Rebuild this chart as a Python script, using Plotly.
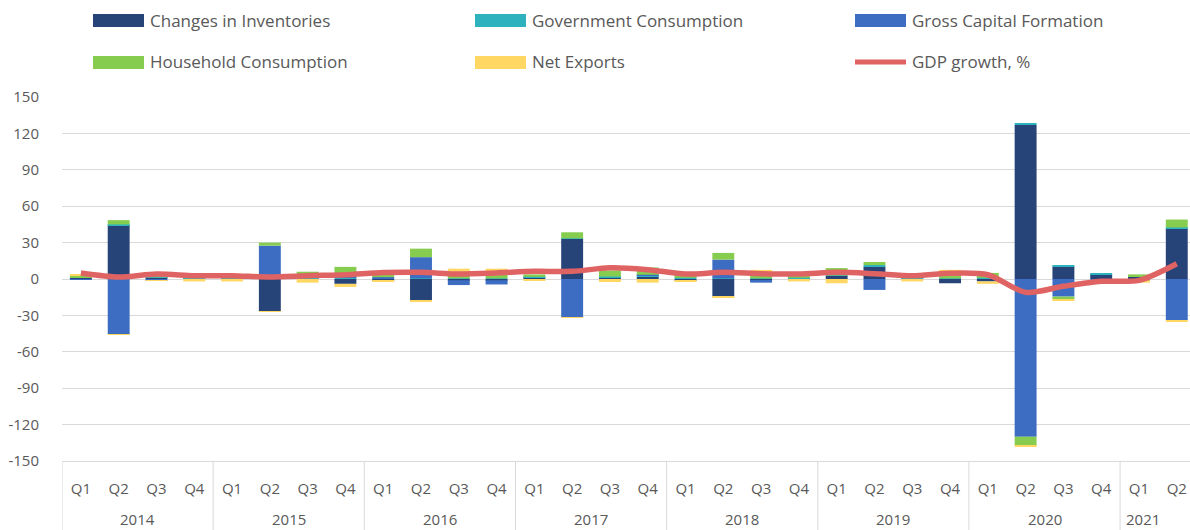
import plotly.graph_objects as go

# Quarterly contributions to GDP growth, 2014 Q1 – 2021 Q2
years = ["2014", "2015", "2016", "2017", "2018", "2019", "2020", "2021"]
quarters_per_year = [4, 4, 4, 4, 4, 4, 4, 2]
quarter_labels = ["Q1", "Q2", "Q3", "Q4"]
y_ticks = [-150, -120, -90, -60, -30, 0, 30, 60, 90, 120, 150]

inventories = [1.0, 44.5, 1.0, 0.5, 0.5, -26.5, 0.5, -4.0, -1.5, -18.0,
               -1.0, -1.0, 1.5, 33.0, 1.5, 2.0, -1.0, -14.5, -1.5, 0.5,
               2.5, 10.0, 0.5, -3.5, -2.0, 127.0, 10.5, 4.0, 2.0, 42.0]
government = [0.3, 0.5, 0.5, 0.5, 0.5, 0.5, 0.5, 1.0, 0.5, 0.5,
              0.5, 0.5, 0.3, 0.5, 0.5, 1.0, 1.0, 0.5, 0.5, 0.5,
              0.5, 1.5, 0.5, 0.5, 1.0, 1.5, 0.3, 0.3, 0.3, 0.5]
capital_formation = [-0.5, -45.5, -1.0, 0.5, 0.0, 27.0, 0.0, 1.0, 1.0, 17.5,
                     -4.0, -3.5, 0.0, -31.5, 0.0, 0.5, 0.0, 15.5, -1.5, -0.5,
                     0.0, -9.0, 0.0, 0.0, 0.0, -130.0, -14.5, -1.0, -1.0, -34.0]
household = [1.5, 3.5, 2.0, 2.0, 1.5, 2.5, 5.0, 8.0, 3.0, 7.0,
             5.0, 5.0, 2.0, 5.0, 5.0, 6.0, 3.0, 5.5, 5.0, 3.0,
             6.0, 2.5, 2.0, 5.0, 4.0, -7.5, -2.5, -1.0, 1.5, 6.5]
net_exports = [1.0, -0.5, -0.5, -2.0, -2.0, -0.5, -3.0, -2.5, -1.0, -1.0,
               3.0, 3.0, -1.5, -0.5, -2.5, -3.0, -1.5, -0.5, 2.0, -1.5,
               -3.5, 0.0, -2.0, 2.0, -2.0, -0.5, -0.5, -0.5, -2.0, -1.0]
gdp_growth = [4.9, 1.6, 4.1, 2.7, 2.7, 1.6, 2.7, 3.5, 5.3, 5.5,
              4.1, 5.0, 6.3, 6.3, 9.3, 7.7, 4.1, 5.5, 4.4, 4.1,
              5.5, 4.4, 2.7, 4.7, 3.5, -11.0, -6.0, -1.9, -1.1, 12.6]

ticktext = []
for n in quarters_per_year:
    ticktext += quarter_labels[:n]
x = list(range(len(ticktext)))

TEXT = "#595959"
GRID = "#d9d9d9"
FONT = "Open Sans"

series = [
    ("Changes in Inventories", inventories, "#264478"),
    ("Government Consumption", government, "#2EB3BE"),
    ("Gross Capital Formation", capital_formation, "#3C6DC2"),
    ("Household Consumption", household, "#86CC4F"),
    ("Net Exports", net_exports, "#FFD762"),
]

fig = go.Figure()
for name, vals, color in series:
    fig.add_trace(go.Bar(x=x, y=vals, name=name, marker_color=color,
                         marker_line_width=0, showlegend=False))
fig.add_trace(go.Scatter(x=x, y=gdp_growth, name="GDP growth, %", mode="lines",
                         line=dict(color="#E06363", width=5.5, shape="spline", smoothing=0.8),
                         showlegend=False))

# Plot-area geometry in pixels (used for paper-coordinate legend placement)
W, H = 1190, 530
L, R, T, B = 62, 0, 97, 69
pw, ph = W - L - R, H - T - B

def px_x(px):
    return (px - L) / pw

def px_y(py):
    return (H - B - py) / ph

shapes = []
annotations = []

# Legend: three columns, two rows
legend_items = [
    ("Changes in Inventories", "#264478", "bar", 148, 20),
    ("Government Consumption", "#2EB3BE", "bar", 530, 20),
    ("Gross Capital Formation", "#3C6DC2", "bar", 910, 20),
    ("Household Consumption", "#86CC4F", "bar", 148, 62),
    ("Net Exports", "#FFD762", "bar", 530, 62),
    ("GDP growth, %", "#E06363", "line", 910, 62),
]
for label, color, kind, tx, ty in legend_items:
    if kind == "bar":
        shapes.append(dict(type="rect", xref="paper", yref="paper",
                           x0=px_x(tx - 55), x1=px_x(tx - 4),
                           y0=px_y(ty + 7), y1=px_y(ty - 6),
                           fillcolor=color, line_width=0))
    else:
        shapes.append(dict(type="line", xref="paper", yref="paper",
                           x0=px_x(tx - 55), x1=px_x(tx - 4),
                           y0=px_y(ty), y1=px_y(ty),
                           line=dict(color=color, width=5)))
    annotations.append(dict(text=label, xref="paper", yref="paper",
                            x=px_x(tx), y=px_y(ty), xanchor="left", yanchor="middle",
                            showarrow=False, font=dict(family=FONT, size=17, color=TEXT)))

# Year group labels and dividers below the category axis
start = 0
for i, (yr, n) in enumerate(zip(years, quarters_per_year)):
    center = start + (n - 1) / 2
    if i == len(years) - 1:
        center -= 0.4
    annotations.append(dict(text=yr, xref="x", yref="paper", x=center, y=px_y(519),
                            xanchor="center", yanchor="middle", showarrow=False,
                            font=dict(family=FONT, size=15, color=TEXT)))
    shapes.append(dict(type="line", xref="x", yref="paper",
                       x0=start - 0.5, x1=start - 0.5, y0=0, y1=px_y(H + 2),
                       line=dict(color=GRID, width=1), layer="below"))
    start += n

fig.update_layout(
    width=W, height=H,
    margin=dict(l=L, r=R, t=T, b=B, pad=0),
    barmode="relative",
    bargap=0.42,
    plot_bgcolor="white",
    paper_bgcolor="white",
    font=dict(family=FONT, color=TEXT),
    shapes=shapes,
    annotations=annotations,
    xaxis=dict(
        range=[-0.5, len(x) - 0.65],
        tickmode="array", tickvals=x, ticktext=ticktext,
        showgrid=False, zeroline=False,
        showline=True, linecolor=GRID, linewidth=1,
        ticks="", ticklabelstandoff=14,
        tickfont=dict(family=FONT, size=15, color=TEXT),
    ),
    yaxis=dict(
        range=[-150, 150],
        tickmode="array", tickvals=y_ticks, ticktext=[str(v) for v in y_ticks],
        showgrid=True, gridcolor=GRID, gridwidth=1,
        zeroline=False, showline=False,
        ticks="", ticklabelstandoff=22,
        tickfont=dict(family=FONT, size=15, color=TEXT),
    ),
)

fig.write_html("out.html")
